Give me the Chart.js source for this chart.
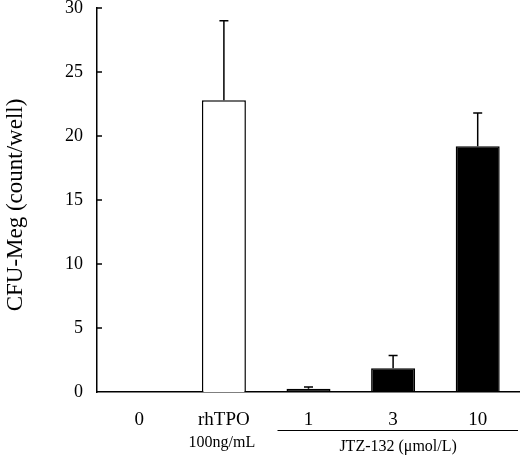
<!DOCTYPE html>
<html>
<head>
<meta charset="utf-8">
<script src="https://cdn.jsdelivr.net/npm/chart.js@4"></script>
<style>
html,body{margin:0;padding:0;background:#fff;}
#wrap{width:520px;height:460px;}
</style>
</head>
<body>
<div id="wrap"><canvas id="c" width="520" height="460"></canvas></div>
<script>
const categories = ['0', 'rhTPO', '1', '3', '10'];
const meanValues = [0, 22.8, 0.25, 1.85, 19.2];
const errorValues = [0, 6.2, 0.15, 1.0, 2.6];
const barFills = ['#ffffff', '#ffffff', '#000000', '#000000', '#000000'];
const yTicks = [0, 5, 10, 15, 20, 25, 30];
const yTitle = 'CFU-Meg (count/well)';
const subLabelTPO = '100ng/mL';
const groupLabel = 'JTZ-132 (\u03bcmol/L)';

const SERIF = '"Liberation Serif", "DejaVu Serif", serif';

const extrasPlugin = {
  id: 'extras',
  afterDatasetsDraw(chart) {
    const ctx = chart.ctx;
    const x = chart.scales.x, y = chart.scales.y;
    const meta = chart.getDatasetMeta(0);
    ctx.save();
    ctx.strokeStyle = '#000';
    ctx.lineWidth = 1.5;
    // error bars (upper only)
    meta.data.forEach((bar, i) => {
      const e = errorValues[i];
      if (!e) return;
      const top = y.getPixelForValue(meanValues[i] + e);
      const base = y.getPixelForValue(meanValues[i]);
      ctx.beginPath();
      ctx.moveTo(bar.x, base);
      ctx.lineTo(bar.x, top);
      ctx.moveTo(bar.x - 4.5, top);
      ctx.lineTo(bar.x + 4.5, top);
      ctx.stroke();
    });
    // inward y ticks
    const left = chart.chartArea.left;
    yTicks.forEach(v => {
      if (v === 0) return;
      const py = y.getPixelForValue(v);
      ctx.beginPath();
      ctx.moveTo(left, py);
      ctx.lineTo(left + 5, py);
      ctx.stroke();
    });
    ctx.fillStyle = '#000';
    // y title
    ctx.save();
    ctx.font = '23px ' + SERIF;
    ctx.textAlign = 'center';
    ctx.textBaseline = 'middle';
    ctx.translate(16, 205);
    ctx.rotate(-Math.PI / 2);
    ctx.fillText(yTitle, 0, 0);
    ctx.restore();
    // sub labels
    ctx.font = '16px ' + SERIF;
    ctx.textAlign = 'center';
    ctx.textBaseline = 'middle';
    ctx.fillText(subLabelTPO, x.getPixelForValue(1) - 2, 443);
    const gx0 = x.getPixelForValue(2) - 31;
    const gx1 = chart.width - 2;
    ctx.lineWidth = 1;
    ctx.beginPath();
    ctx.moveTo(gx0, 430.5);
    ctx.lineTo(gx1, 430.5);
    ctx.stroke();
    ctx.fillText(groupLabel, x.getPixelForValue(3) + 5, 447);
    ctx.restore();
  }
};

new Chart(document.getElementById('c'), {
  type: 'bar',
  data: {
    labels: categories,
    datasets: [{
      data: meanValues,
      backgroundColor: barFills,
      borderColor: '#000',
      borderWidth: 1.5,
      borderSkipped: 'bottom',
      barPercentage: 0.52,
      categoryPercentage: 1.0
    }]
  },
  options: {
    responsive: false,
    animation: false,
    devicePixelRatio: 1,
    layout: { padding: { top: 8, right: 0, left: 0, bottom: 0 } },
    plugins: { legend: { display: false }, tooltip: { enabled: false } },
    scales: {
      x: {
        grid: { display: false, drawTicks: false },
        border: { display: true, color: '#000', width: 1.5 },
        ticks: { color: '#000', font: { family: SERIF, size: 19 }, padding: 17 },
        afterFit(s) { s.height = 68; s.paddingLeft = 0; s.paddingRight = 0; }
      },
      y: {
        min: 0, max: 30,
        afterBuildTicks(s) { s.ticks = yTicks.map(v => ({ value: v })); },
        grid: { display: false, drawTicks: false },
        border: { display: true, color: '#000', width: 1.5 },
        ticks: { color: '#000', font: { family: SERIF, size: 18 }, padding: 14 },
        title: { display: false },
        afterFit(s) { s.width = 97; s.paddingTop = 0; s.paddingBottom = 0; }
      }
    }
  },
  plugins: [extrasPlugin]
});
</script>
</body>
</html>
